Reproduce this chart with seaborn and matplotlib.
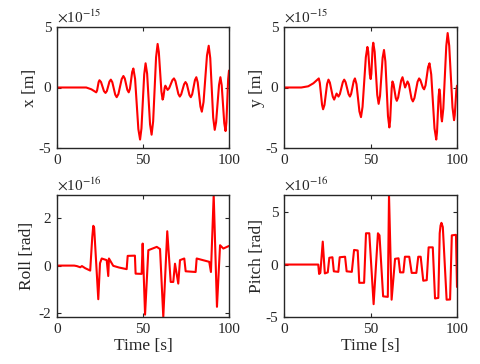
import numpy as np
import pandas as pd
import matplotlib
matplotlib.use("Agg")
import matplotlib.pyplot as plt
import seaborn as sns

# (time [s], value) pairs, values in units of the axis exponent
x_pts = [(0, 0), (10, 0), (17, 0), (20, -0.15), (22.8, -0.4), (23.3, -0.25), (24.2, 0.45), (24.7, 0.6),
         (25.6, 0.45), (27.3, -0.3), (28.2, -0.45), (29.0, -0.29), (30.5, 0.49), (31.3, 0.65),
         (32.15, 0.44), (33.85, -0.59), (34.7, -0.8), (35.7, -0.54), (37.6, 0.69), (38.6, 0.95),
         (39.4, 0.75), (40.9, -0.2), (41.7, -0.4), (42.4, -0.11), (43.7, 1.28), (44.4, 1.57),
         (45.4, 0.71), (47.3, -3.44), (48.3, -4.3), (49.1, -3.38), (50.7, 1.08), (51.5, 2.0),
         (52.4, 1.14), (54.1, -3.04), (55, -3.9), (55.9, -2.8), (57.6, 2.5), (58.5, 3.6),
         (59.2, 2.93), (60.7, -0.33), (61.4, -1.0), (61.8, -0.83), (62.6, -0.02), (63, 0.15),
         (64.3, -0.2), (65.2, -0.06), (67.1, 0.61), (68, 0.75), (68.85, 0.53), (70.55, -0.53),
         (71.4, -0.75), (72.2, -0.57), (73.9, 0.27), (74.7, 0.45), (75.5, 0.27), (77.0, -0.62),
         (77.8, -0.8), (78.6, -0.56), (80.2, 0.61), (81, 0.85), (81.8, 0.43), (83.4, -1.58),
         (84.2, -2.0), (85.2, -1.2), (87.2, 2.65), (88.2, 3.45), (89.1, 2.43), (90.8, -2.48),
         (91.7, -3.5), (92.5, -2.86), (94.2, 0.21), (95, 0.85), (95.75, 0.2), (97.25, -2.95),
         (98, -3.6), (98.5, -2.87), (99.5, 0.67), (100, 1.4)]

y_pts = [(0, 0), (10, 0), (14, 0.1), (17, 0.35), (20.1, 0.75), (20.7, 0.38), (22.0, -1.43), (22.6, -1.8),
         (23.4, -1.44), (24.9, 0.29), (25.7, 0.65), (26.5, 0.41), (28.2, -0.76), (29, -1.0),
         (30.4, -0.5), (31.5, -0.75), (32.3, -0.54), (34.0, 0.44), (34.8, 0.65), (35.6, 0.44),
         (37.3, -0.54), (38.1, -0.75), (38.8, -0.53), (40.3, 0.53), (41, 0.75), (41.9, 0.28),
         (43.6, -1.98), (44.5, -2.45), (45.4, -1.6), (47.3, 2.5), (48.2, 3.35), (48.7, 2.96),
         (49.6, 1.09), (50.1, 0.7), (50.5, 1.14), (51.2, 3.26), (51.6, 3.7), (52.4, 2.96),
         (53.9, -0.61), (54.7, -1.35), (55.5, -0.7), (57.0, 2.45), (57.8, 3.1), (58.6, 2.16),
         (60.1, -2.36), (60.9, -3.3), (61.35, -2.74), (62.25, -0.06), (62.7, 0.5), (63.3, 0.27),
         (64.6, -0.87), (65.2, -1.1), (66.0, -0.82), (67.7, 0.57), (68.5, 0.85), (70, 0),
         (71.4, 0.5), (72.2, 0.26), (73.7, -0.91), (74.5, -1.15), (75.4, -0.87), (77.2, 0.47),
         (78.1, 0.75), (78.8, 0.62), (80.3, -0.02), (81, -0.15), (81.8, 0.17), (83.3, 1.69),
         (84.1, 2.0), (85.1, 1.08), (87.0, -3.38), (88, -4.3), (88.45, -3.69), (89.35, -0.76),
         (89.8, -0.15), (90.2, -0.54), (90.9, -2.41), (91.3, -2.8), (92.1, -1.73), (93.8, 3.43),
         (94.6, 4.5), (95.5, 3.45), (97.4, -1.65), (98.3, -2.7), (98.7, -2.28), (99.6, -0.27),
         (100, 0.15)]

roll_pts = [(0, 0), (10, 0), (11.5, -0.02), (13.5, -0.07), (14.5, -0.02), (16.4, -0.11), (19.3, -0.21),
            (20.5, 1.2), (21.1, 1.68), (21.6, 1.6), (24.0, -1.42), (25.0, 0.1), (26.0, 0.3),
            (28.9, 0.23), (29.8, -0.44), (30.2, 0.3), (32.7, -0.01), (36, -0.08), (40.5, -0.15),
            (41.1, 0.41), (45.3, 0.42), (45.7, -0.34), (49.2, -0.35), (49.8, 0.93), (51.2, -2.07),
            (53.1, 0.65), (58.0, 0.79), (59.9, 0.7), (61.8, -2.17), (64.1, 1.45), (66.1, -0.69),
            (67.6, -0.69), (68.6, 0.08), (70.5, -0.76), (71.5, 0.23), (74.0, 0.3), (74.8, -0.24),
            (80.6, -0.27), (81.2, 0.3), (88.5, 0.16), (89.5, -0.27), (91.1, 2.98), (93.0, -1.74),
            (94.8, 0.86), (96.7, 0.72), (100, 0.83)]

pitch_pts = [(0, 0), (19.8, 0), (20.3, -0.9), (21.0, -0.8), (22.4, 2.2), (23.6, -0.85), (25.3, -0.75),
             (26.2, 0.65), (28.0, 0.7), (28.8, -0.65), (31.4, -0.7), (32.2, 0.7), (35.3, 0.75),
             (36.2, -0.65), (39.2, -0.7), (40.5, 1.4), (42.6, 1.35), (43.5, -1.75), (46.3, -1.75),
             (47.4, 3.0), (49.3, 3.0), (51.8, -3.8), (54.3, 3.0), (55.2, 2.8), (57.3, -3.05),
             (60.0, -3.1), (60.7, 6.67), (62.2, -3.37), (64.2, 0.55), (66.2, 0.6), (67.1, -0.75),
             (69.0, -0.75), (69.9, 0.75), (72.4, 0.75), (73.8, -0.8), (76.5, -0.8), (77.6, 0.75),
             (79.0, 0.75), (80.5, -1.55), (82.5, -1.5), (83.6, 1.65), (86.0, 1.65), (87.3, -3.25),
             (89.2, -3.2), (90.0, 3.0), (90.5, 3.75), (91.0, 4.0), (91.8, 3.6), (94.0, -3.37),
             (96.0, -3.35), (97.0, 2.8), (99.4, 2.85), (100, -2.15)]

ylabels = ["x [m]", "y [m]", "Roll [rad]", "Pitch [rad]"]
ylims = [(-5, 5), (-5, 5), (-2.17, 2.98), (-5.03, 6.67)]
yticks = [[-5, 0, 5], [-5, 0, 5], [-2, 0, 2], [-5, 0, 5]]
exponents = ["-15", "-15", "-16", "-16"]
xticks = [0, 50, 100]

sns.set_style("ticks")
plt.rcParams["font.family"] = ["Liberation Serif", "DejaVu Serif"]
plt.rcParams["mathtext.fontset"] = "stix"
plt.rcParams["axes.unicode_minus"] = False

fig = plt.figure(figsize=(4.81, 3.64), dpi=100)
W, H = 481, 364
# axes boxes in pixels: left, top, right, bottom
boxes = [[57, 27, 229, 148], [284, 27, 457, 148], [57, 195, 229, 317], [284, 195, 457, 317]]
label_x = [-0.11, -0.11, -0.128, -0.11]

for i, pts in enumerate([x_pts, y_pts, roll_pts, pitch_pts]):
    l, top, r, b = boxes[i]
    ax = fig.add_axes([l / W, 1 - b / H, (r - l) / W, (b - top) / H])
    df = pd.DataFrame(pts, columns=["t", "v"])
    sns.lineplot(data=df, x="t", y="v", ax=ax, color="red", linewidth=1.5,
                 estimator=None, sort=False)
    ax.set_xlim(0, 100)
    ax.set_ylim(*ylims[i])
    ax.set_xticks(xticks)
    ax.set_yticks(yticks[i])
    ax.tick_params(direction="in", top=True, right=True, length=3, width=0.8,
                   labelsize=11, pad=4, colors="#262626")
    for s in ax.spines.values():
        s.set_linewidth(1.0)
        s.set_color("#262626")
    ax.set_ylabel(ylabels[i], fontsize=12.5)
    ax.yaxis.set_label_coords(label_x[i], 0.5)
    if i >= 2:
        ax.set_xlabel("Time [s]", fontsize=12.5, labelpad=1.5)
    else:
        ax.set_xlabel("")
    ax.text(0.0, 1.01, r"$\times$10$^{" + exponents[i] + "}$", transform=ax.transAxes,
            fontsize=11, ha="left", va="bottom", color="#262626")

fig.savefig("out.png", dpi=100)
